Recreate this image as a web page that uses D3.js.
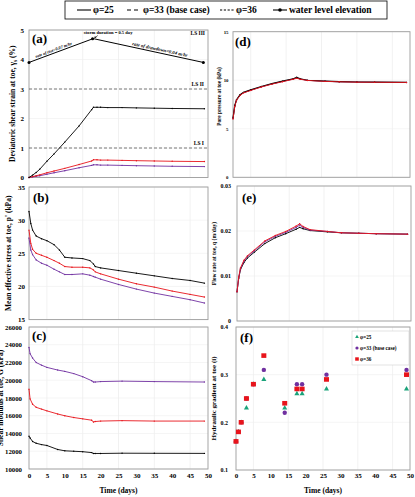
<!DOCTYPE html>
<html>
<head>
<meta charset="utf-8">
<script src="https://cdnjs.cloudflare.com/ajax/libs/d3/7.8.5/d3.min.js"></script>
<style>
body{margin:0;background:#fff;}
svg{font-family:"Liberation Serif","Times New Roman",serif;font-weight:bold;}
</style>
</head>
<body>
<svg id="chart" width="415" height="497"></svg>
<script>
// ---- data ----
// (a) deviatoric shear strain (%)
var strainDays = [0,1,2,3,5,7,10,14,17.5,18,19,20,22,26,30,35,40,49];
var strain25 = [0,0.08,0.17,0.28,0.55,0.8,1.2,1.75,2.3,2.38,2.38,2.38,2.37,2.37,2.36,2.35,2.34,2.33];
var strain36 = [0,0.03,0.06,0.09,0.16,0.22,0.31,0.44,0.56,0.6,0.6,0.59,0.59,0.58,0.57,0.56,0.55,0.54];
var strain33 = [0,0.02,0.04,0.06,0.11,0.16,0.23,0.33,0.41,0.43,0.43,0.42,0.42,0.41,0.4,0.39,0.38,0.37];
var waterDays = [0,17.75,18.25,48.7];
var waterLevel = [3.9,4.7,4.7,3.9];
var lsValues = [1,3];
var lsNames = ["LS I","LS II"];

// (b) mean effective stress (kPa)
var stressDays = [0,0.5,1,2,3.5,5,7,8.5,10,12,15,17,18,18.5,20,25,30,35,40,45,49];
var stress25 = [31.3,29.5,28.5,27.6,27.2,26.9,26.3,25.5,24.4,24.3,24.2,23.9,23.4,23.0,22.8,22.4,22.0,21.6,21.2,20.9,20.5];
var stress36 = [28.5,26.5,25.6,25.0,24.7,24.4,23.9,23.5,23.0,22.9,22.9,22.8,22.5,22.2,21.9,21.1,20.4,19.9,19.3,18.8,18.4];
var stress33 = [27.3,25.5,24.8,24.0,23.5,23.2,22.6,22.2,21.8,21.8,21.9,21.7,21.5,21.4,21.1,20.3,19.6,19.0,18.5,18.0,17.5];

// (c) shear modulus (kPa)
var modDays = [0,0.3,1,2,3.5,5,8,10,12.5,15,17.5,18,18.5,20,26,35,49];
var mod33 = [23700,23000,22500,22000,21700,21450,21150,21000,20750,20400,19950,19800,19800,19850,19900,19850,19800];
var mod36 = [19000,17900,17300,16950,16750,16550,16200,16000,15800,15650,15500,15300,15350,15400,15450,15400,15400];
var mod25 = [13700,13500,13100,12900,12750,12650,12200,12050,12000,11950,11850,11750,11750,11750,11780,11770,11760];

// (d) pore pressure (kPa) and (e) flow rate (m/day)
var flowDays = [0,0.5,1,2,3,5,8,11,14,17,18,19,21,26,30,35,40,49];
var pore25 = [6.1,7.4,8.0,8.5,8.75,9.0,9.35,9.65,9.9,10.15,10.3,10.15,10.0,9.9,9.85,9.82,9.8,9.78];
var pore33 = [6.05,7.35,7.97,8.47,8.72,8.97,9.32,9.62,9.87,10.12,10.25,10.12,9.99,9.89,9.84,9.81,9.79,9.77];
var pore36 = [6.0,7.3,7.95,8.45,8.7,8.95,9.3,9.6,9.85,10.1,10.2,10.1,9.98,9.88,9.84,9.8,9.79,9.77];
var flow25 = [0.0065,0.0095,0.0114,0.013,0.014,0.0153,0.0172,0.0185,0.0194,0.0204,0.0208,0.0205,0.0201,0.0198,0.0196,0.0195,0.0194,0.0193];
var flow33 = [0.0065,0.0097,0.0116,0.0133,0.0143,0.0156,0.0176,0.0188,0.0197,0.0208,0.0213,0.0208,0.0202,0.0199,0.0196,0.0195,0.0194,0.0193];
var flow36 = [0.0065,0.0098,0.0118,0.0135,0.0145,0.0158,0.0178,0.019,0.0199,0.0211,0.0216,0.021,0.0203,0.0199,0.0196,0.0195,0.0194,0.0193];

// (f) hydraulic gradient (i)
var gradDays = [0,0.7,1.5,3,5,8,14,17.5,19,26,49];
var grad25 = [0.16,0.18,0.20,0.23,0.28,0.29,0.23,0.26,0.26,0.27,0.27];
var grad33 = [0.16,0.18,0.20,0.25,0.28,0.31,0.22,0.28,0.28,0.30,0.31];
var grad36 = [0.16,0.18,0.20,0.25,0.28,0.34,0.24,0.27,0.27,0.29,0.30];

var dayTicks = [0,5,10,15,20,25,30,35,40,45,50];
var gridDays = [5,15,25,35,45];

var BLACK = "#000", RED = "#e8141b", PURPLE = "#7030a0", GREEN = "#1aa37a";

var svg = d3.select("#chart");

var zip = function(xs, ys){ return xs.map(function(d,i){ return [d, ys[i]]; }); };

var makePanel = function(p)
{
    var x = d3.scaleLinear().domain([0,50]).range([p.left,p.right]);
    var y = d3.scaleLinear().domain(p.yDomain).range([p.bottom,p.top]);
    var g = svg.append("g");

    g.selectAll(".vg").data(gridDays).enter().append("line")
        .attr("x1",function(d){return x(d);}).attr("x2",function(d){return x(d);})
        .attr("y1",p.top).attr("y2",p.bottom)
        .attr("stroke","#e8e8e8").attr("stroke-width",0.6);
    g.selectAll(".hg").data(p.yTicks).enter().append("line")
        .attr("x1",p.left).attr("x2",p.right)
        .attr("y1",function(d){return y(d);}).attr("y2",function(d){return y(d);})
        .attr("stroke","#eeeeee").attr("stroke-width",0.6);

    var ya = g.append("g")
        .attr("transform","translate("+p.left+",0)")
        .call(d3.axisLeft(y).tickValues(p.yTicks).tickSize(0).tickPadding(p.pad).tickFormat(p.fmt));
    ya.select(".domain").remove();
    ya.attr("font-family",null).attr("font-size",p.tickFont);
    ya.selectAll("text").attr("fill","#000");

    if (p.xAxis) {
        var xa = g.append("g")
            .attr("transform","translate(0,"+p.bottom+")")
            .call(d3.axisBottom(x).tickValues(dayTicks).tickSize(0).tickPadding(p.xPad));
        xa.select(".domain").remove();
        xa.attr("font-family",null).attr("font-size",7);
        xa.selectAll("text").attr("fill","#000");
        g.append("text").text("Time (days)")
            .attr("x",(p.left+p.right)/2).attr("y",493)
            .attr("text-anchor","middle").attr("font-size",7.5);
    }

    g.append("rect")
        .attr("x",p.left).attr("y",p.top)
        .attr("width",p.right-p.left).attr("height",p.bottom-p.top)
        .attr("fill","none").attr("stroke","#9c9c9c").attr("stroke-width",0.9);

    var t = g.append("text")
        .attr("transform","translate("+p.titleX+","+((p.top+p.bottom)/2 + (p.titleShift||0))+") rotate(-90)")
        .attr("text-anchor","middle").attr("font-size",p.titleFont);
    p.title.forEach(function(part){
        var s = t.append("tspan").text(part.t);
        if (part.sub) s.attr("font-size",p.titleFont*0.7).attr("dy",1.5);
        else if (part.after) s.attr("dy",-1.5);
    });

    g.append("text").text(p.label)
        .attr("x",p.left+p.labelDx).attr("y",p.top+p.labelDy)
        .attr("font-size",13);

    return {x:x, y:y, g:g};
};

var drawLine = function(panel, xs, ys, color, width)
{
    var pts = zip(xs, ys);
    var line = d3.line()
        .x(function(d){return panel.x(d[0]);})
        .y(function(d){return panel.y(d[1]);});
    panel.g.append("path").datum(pts)
        .attr("d",line).attr("fill","none")
        .attr("stroke",color).attr("stroke-width",width||0.9);
    panel.g.selectAll(null).data(pts).enter().append("circle")
        .attr("cx",function(d){return panel.x(d[0]);})
        .attr("cy",function(d){return panel.y(d[1]);})
        .attr("r",0.7).attr("fill",color);
};

// ---- (a) ----
var pa = makePanel({left:29,right:208,top:30,bottom:177.5,yDomain:[0,5],yTicks:[0,1,2,3,4,5],
    pad:5,tickFont:7,fmt:d3.format("d"),titleX:15,titleFont:7.5,titleShift:0,
    title:[{t:"Deviatoric shear strain at toe, γ"},{t:"s",sub:true},{t:" (%)",after:true}],
    label:"(a)",labelDx:3,labelDy:13});

pa.g.selectAll(".ls").data(lsValues).enter().append("line")
    .attr("x1",29).attr("x2",208)
    .attr("y1",function(d){return pa.y(d);}).attr("y2",function(d){return pa.y(d);})
    .attr("stroke","#555").attr("stroke-width",0.8).attr("stroke-dasharray","3,2");
pa.g.selectAll(".lsl").data(lsValues).enter().append("text")
    .text(function(d,i){return lsNames[i];})
    .attr("x",204).attr("y",function(d){return pa.y(d)-3;})
    .attr("text-anchor","end").attr("font-size",5.5);
pa.g.append("text").text("LS III").attr("x",205).attr("y",pa.y(4.83))
    .attr("text-anchor","end").attr("font-size",5.5);

drawLine(pa, strainDays, strain33, PURPLE);
drawLine(pa, strainDays, strain36, RED);
drawLine(pa, strainDays, strain25, BLACK);

var wl = zip(waterDays, waterLevel);
pa.g.append("path").datum(wl)
    .attr("d",d3.line().x(function(d){return pa.x(d[0]);}).y(function(d){return pa.y(d[1]);}))
    .attr("fill","none").attr("stroke","#000").attr("stroke-width",1);
pa.g.selectAll(".wl").data([wl[0],wl[1],wl[3]]).enter().append("circle")
    .attr("cx",function(d){return pa.x(d[0]);}).attr("cy",function(d){return pa.y(d[1]);})
    .attr("r",1.5).attr("fill","#000");

var riseAng = Math.atan2(pa.y(waterLevel[1])-pa.y(waterLevel[0]), pa.x(waterDays[1])-pa.x(waterDays[0]))*180/Math.PI;
var fallAng = Math.atan2(pa.y(waterLevel[3])-pa.y(waterLevel[2]), pa.x(waterDays[3])-pa.x(waterDays[2]))*180/Math.PI;
pa.g.append("text").text("rate of rise=0.07 m/hr")
    .attr("transform","translate("+pa.x(7)+","+(pa.y(4.21)-2)+") rotate("+riseAng+")")
    .attr("text-anchor","middle").attr("font-size",4.3).attr("font-style","italic");
pa.g.append("text").text("rate of drawdown=0.04 m/hr")
    .attr("transform","translate("+pa.x(36.5)+","+(pa.y(4.22)-2)+") rotate("+fallAng+")")
    .attr("text-anchor","middle").attr("font-size",4.8).attr("font-style","italic");
pa.g.append("text").text("storm duration = 0.5 day")
    .attr("x",pa.x(15.3)).attr("y",34).attr("font-size",4.6);
pa.g.append("line")
    .attr("x1",pa.x(19.2)).attr("y1",35.5).attr("x2",pa.x(18.2)+0.5).attr("y2",pa.y(4.7)-0.8)
    .attr("stroke","#000").attr("stroke-width",0.6);
pa.g.append("path")
    .attr("d","M"+(pa.x(18.2)+0.2)+","+(pa.y(4.7)-0.5)+" l0.4,-2.2 l1.8,1.2 z")
    .attr("fill","#000");

// ---- (b) ----
var pb = makePanel({left:29,right:208,top:187,bottom:319.6,yDomain:[15,35],yTicks:[15,20,25,30,35],
    pad:4,tickFont:7,fmt:d3.format("d"),titleX:11,titleFont:7.5,
    title:[{t:"Mean effective stress at toe, p' (kPa)"}],
    label:"(b)",labelDx:4,labelDy:15});
drawLine(pb, stressDays, stress33, PURPLE);
drawLine(pb, stressDays, stress36, RED);
drawLine(pb, stressDays, stress25, BLACK);

// ---- (c) ----
var pc = makePanel({left:29,right:208,top:327,bottom:469,yDomain:[10000,26000],
    yTicks:[10000,12000,14000,16000,18000,20000,22000,24000,26000],
    pad:7,tickFont:6.8,fmt:d3.format("d"),titleX:3,titleFont:7.5,
    title:[{t:"Shear modulus at toe, G (kPa)"}],
    label:"(c)",labelDx:3,labelDy:13,xAxis:true,xPad:4});
drawLine(pc, modDays, mod33, PURPLE);
drawLine(pc, modDays, mod36, RED);
drawLine(pc, modDays, mod25, BLACK);

// ---- (d) ----
var pd = makePanel({left:233,right:410,top:31.7,bottom:177.3,yDomain:[0,15],yTicks:[0,5,10,15],
    pad:4.5,tickFont:4.8,fmt:d3.format("d"),titleX:220.5,titleFont:5.3,titleShift:-8,
    title:[{t:"Pore pressure at toe (kPa)"}],
    label:"(d)",labelDx:2,labelDy:14});
drawLine(pd, flowDays, pore33, PURPLE);
drawLine(pd, flowDays, pore25, BLACK, 1.2);
drawLine(pd, flowDays, pore36, RED);

// ---- (e) ----
var pe = makePanel({left:237,right:411,top:186,bottom:321,yDomain:[0,0.03],yTicks:[0,0.01,0.02,0.03],
    pad:6,tickFont:6,fmt:function(d){return d===0?"0":d3.format(".2f")(d);},titleX:215.5,titleFont:5.6,
    title:[{t:"Flow rate at toe, q (m/day)"}],
    label:"(e)",labelDx:5,labelDy:16});
drawLine(pe, flowDays, flow25, BLACK);
drawLine(pe, flowDays, flow33, PURPLE);
drawLine(pe, flowDays, flow36, RED);

// ---- (f) ----
var pf = makePanel({left:236,right:410,top:327,bottom:470,yDomain:[0.1,0.4],yTicks:[0.1,0.2,0.3,0.4],
    pad:8,tickFont:6,fmt:d3.format(".1f"),titleX:215.5,titleFont:7,
    title:[{t:"Hydraulic gradient at toe (i)"}],
    label:"(f)",labelDx:4,labelDy:15,xAxis:true,xPad:3});

var tri = d3.symbol().type(d3.symbolTriangle).size(11);
pf.g.selectAll(".g25").data(zip(gradDays, grad25)).enter().append("path")
    .attr("d",tri)
    .attr("transform",function(d){return "translate("+pf.x(d[0])+","+pf.y(d[1])+")";})
    .attr("fill",GREEN);
pf.g.selectAll(".g33").data(zip(gradDays, grad33)).enter().append("circle")
    .attr("cx",function(d){return pf.x(d[0]);}).attr("cy",function(d){return pf.y(d[1]);})
    .attr("r",2.2).attr("fill",PURPLE);
pf.g.selectAll(".g36").data(zip(gradDays, grad36)).enter().append("rect")
    .attr("x",function(d){return pf.x(d[0])-2.5;}).attr("y",function(d){return pf.y(d[1])-2.3;})
    .attr("width",5).attr("height",4.6).attr("fill",RED);

// legend of (f)
var fl = pf.g.append("g");
fl.append("rect").attr("x",352).attr("y",331).attr("width",57).attr("height",34)
    .attr("fill","#fff").attr("stroke","#d0d0d0").attr("stroke-width",0.6);
var fNames = ["φ=25","φ=33 (base case)","φ=36"];
fNames.forEach(function(n,i){
    var yy = 337 + i*11;
    if (i===0) fl.append("path").attr("d",d3.symbol().type(d3.symbolTriangle).size(6))
        .attr("transform","translate(357,"+yy+")").attr("fill",GREEN);
    if (i===1) fl.append("circle").attr("cx",357).attr("cy",yy).attr("r",1.6).attr("fill",PURPLE);
    if (i===2) fl.append("rect").attr("x",355.2).attr("y",yy-1.7).attr("width",3.6).attr("height",3.4).attr("fill",RED);
    fl.append("text").text(n).attr("x",360).attr("y",yy+1.7).attr("font-size",5.2);
});

// ---- top legend ----
var lg = svg.append("g");
lg.append("rect").attr("x",65).attr("y",1).attr("width",322).attr("height",18)
    .attr("fill","#fff").attr("stroke","#000").attr("stroke-width",0.8);
var legendItems = [
    {x:77, dash:null, text:"φ=25"},
    {x:127, dash:"4,3", text:"φ=33 (base case)"},
    {x:220, dash:"2.2,1.6", text:"φ=36"},
    {x:273, dash:null, text:"water level elevation", dot:true}
];
legendItems.forEach(function(it){
    lg.append("line").attr("x1",it.x).attr("x2",it.x+14).attr("y1",10).attr("y2",10)
        .attr("stroke","#000").attr("stroke-width",1.1)
        .attr("stroke-dasharray",it.dash);
    if (it.dot) lg.append("circle").attr("cx",it.x+7).attr("cy",10).attr("r",1.8).attr("fill","#000");
    lg.append("text").text(it.text).attr("x",it.x+16).attr("y",13.3).attr("font-size",9.5);
});
</script>
</body>
</html>
